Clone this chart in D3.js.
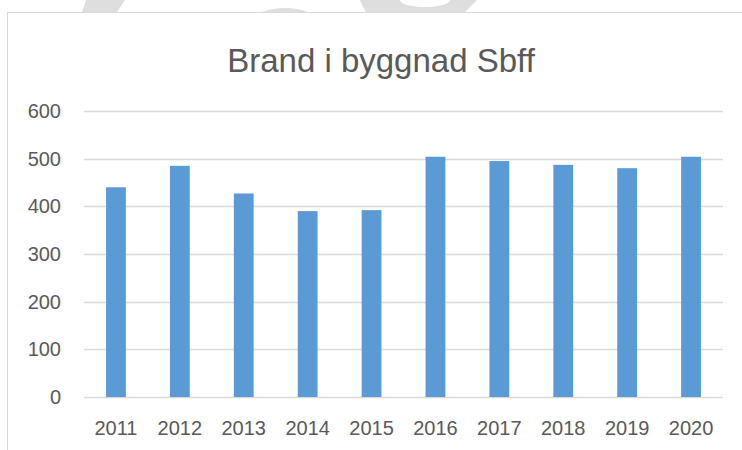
<!DOCTYPE html>
<html>
<head>
<meta charset="utf-8">
<script src="https://cdn.jsdelivr.net/npm/d3@7"></script>
<style>
  body { margin: 0; background: #fff; }
  svg { display: block; font-family: "Liberation Sans", Arial, sans-serif; }
</style>
</head>
<body>
<svg id="chart"></svg>
<script>
// chart values
const years = ["2011", "2012", "2013", "2014", "2015", "2016", "2017", "2018", "2019", "2020"];
const fires = [440, 485, 427, 390, 392, 504, 495, 487, 480, 504];
const yTicks = [0, 100, 200, 300, 400, 500, 600];
const chartTitle = "Brand i byggnad Sbff";

const width = 742, height = 450;
const margin = {top: 111, right: 19, bottom: 53, left: 84};

const svg = d3.select('#chart')
    .attr('width', width)
    .attr('height', height);

// faint watermark shapes peeking above the chart frame
const wm = svg.append('g').attr('fill', '#dedede');
wm.append('path').attr('d', 'M86,0 L125,0 L117,12 L82,12 Z');
wm.append('path').attr('d', 'M262,12 Q285,4 308,12 Z');
wm.append('path').attr('d', 'M360,0 L400,0 A25,7 0 0 0 450,0 L477,0 L465,12 L366,12 Q362,6 360,0 Z');

// chart frame
svg.append('rect')
    .attr('x', 7.5).attr('y', 12.5)
    .attr('width', width + 20).attr('height', height + 20)
    .attr('fill', '#fff')
    .attr('stroke', '#d9d9d9')
    .attr('stroke-width', 1);

const innerW = width - margin.left - margin.right;
const innerH = height - margin.top - margin.bottom;

const chart = svg.append('g')
    .attr('transform', `translate(${margin.left}, ${margin.top})`);

const xScale = d3.scaleBand()
    .domain(years)
    .range([0, innerW])
    .paddingInner(0.69)
    .paddingOuter(0.345);

const yScale = d3.scaleLinear()
    .domain([0, 600])
    .range([innerH, 0]);

// gridlines
chart.append('g')
    .attr('class', 'grid')
    .selectAll('line')
    .data(yTicks)
  .join('line')
    .attr('x1', 0)
    .attr('x2', innerW)
    .attr('y1', d => Math.round(yScale(d)) + 0.5)
    .attr('y2', d => Math.round(yScale(d)) + 0.5)
    .attr('stroke', '#d9d9d9')
    .attr('stroke-width', 1.5);

// bars
chart.selectAll('rect.bar')
    .data(years.map((y, i) => ({year: y, value: fires[i]})))
  .join('rect')
    .attr('class', 'bar')
    .attr('x', d => xScale(d.year))
    .attr('width', xScale.bandwidth())
    .attr('y', d => yScale(d.value))
    .attr('height', d => innerH - yScale(d.value))
    .attr('fill', '#5b9bd5');

// y axis labels
const yAxis = chart.append('g')
    .call(d3.axisLeft(yScale).tickValues(yTicks).tickSize(0).tickPadding(23));
yAxis.select('.domain').remove();
yAxis.selectAll('text')
    .attr('fill', '#595959')
    .style('font-size', '20px')
    .style('font-family', '"Liberation Sans", Arial, sans-serif');

// x axis labels
const xAxis = chart.append('g')
    .attr('transform', `translate(0, ${innerH})`)
    .call(d3.axisBottom(xScale).tickSize(0).tickPadding(24));
xAxis.select('.domain').remove();
xAxis.selectAll('text')
    .attr('fill', '#595959')
    .style('font-size', '20px')
    .style('font-family', '"Liberation Sans", Arial, sans-serif');

// title
svg.append('text')
    .attr('x', 381)
    .attr('y', 72)
    .attr('text-anchor', 'middle')
    .attr('fill', '#595959')
    .style('font-size', '33px')
    .text(chartTitle);
</script>
</body>
</html>
